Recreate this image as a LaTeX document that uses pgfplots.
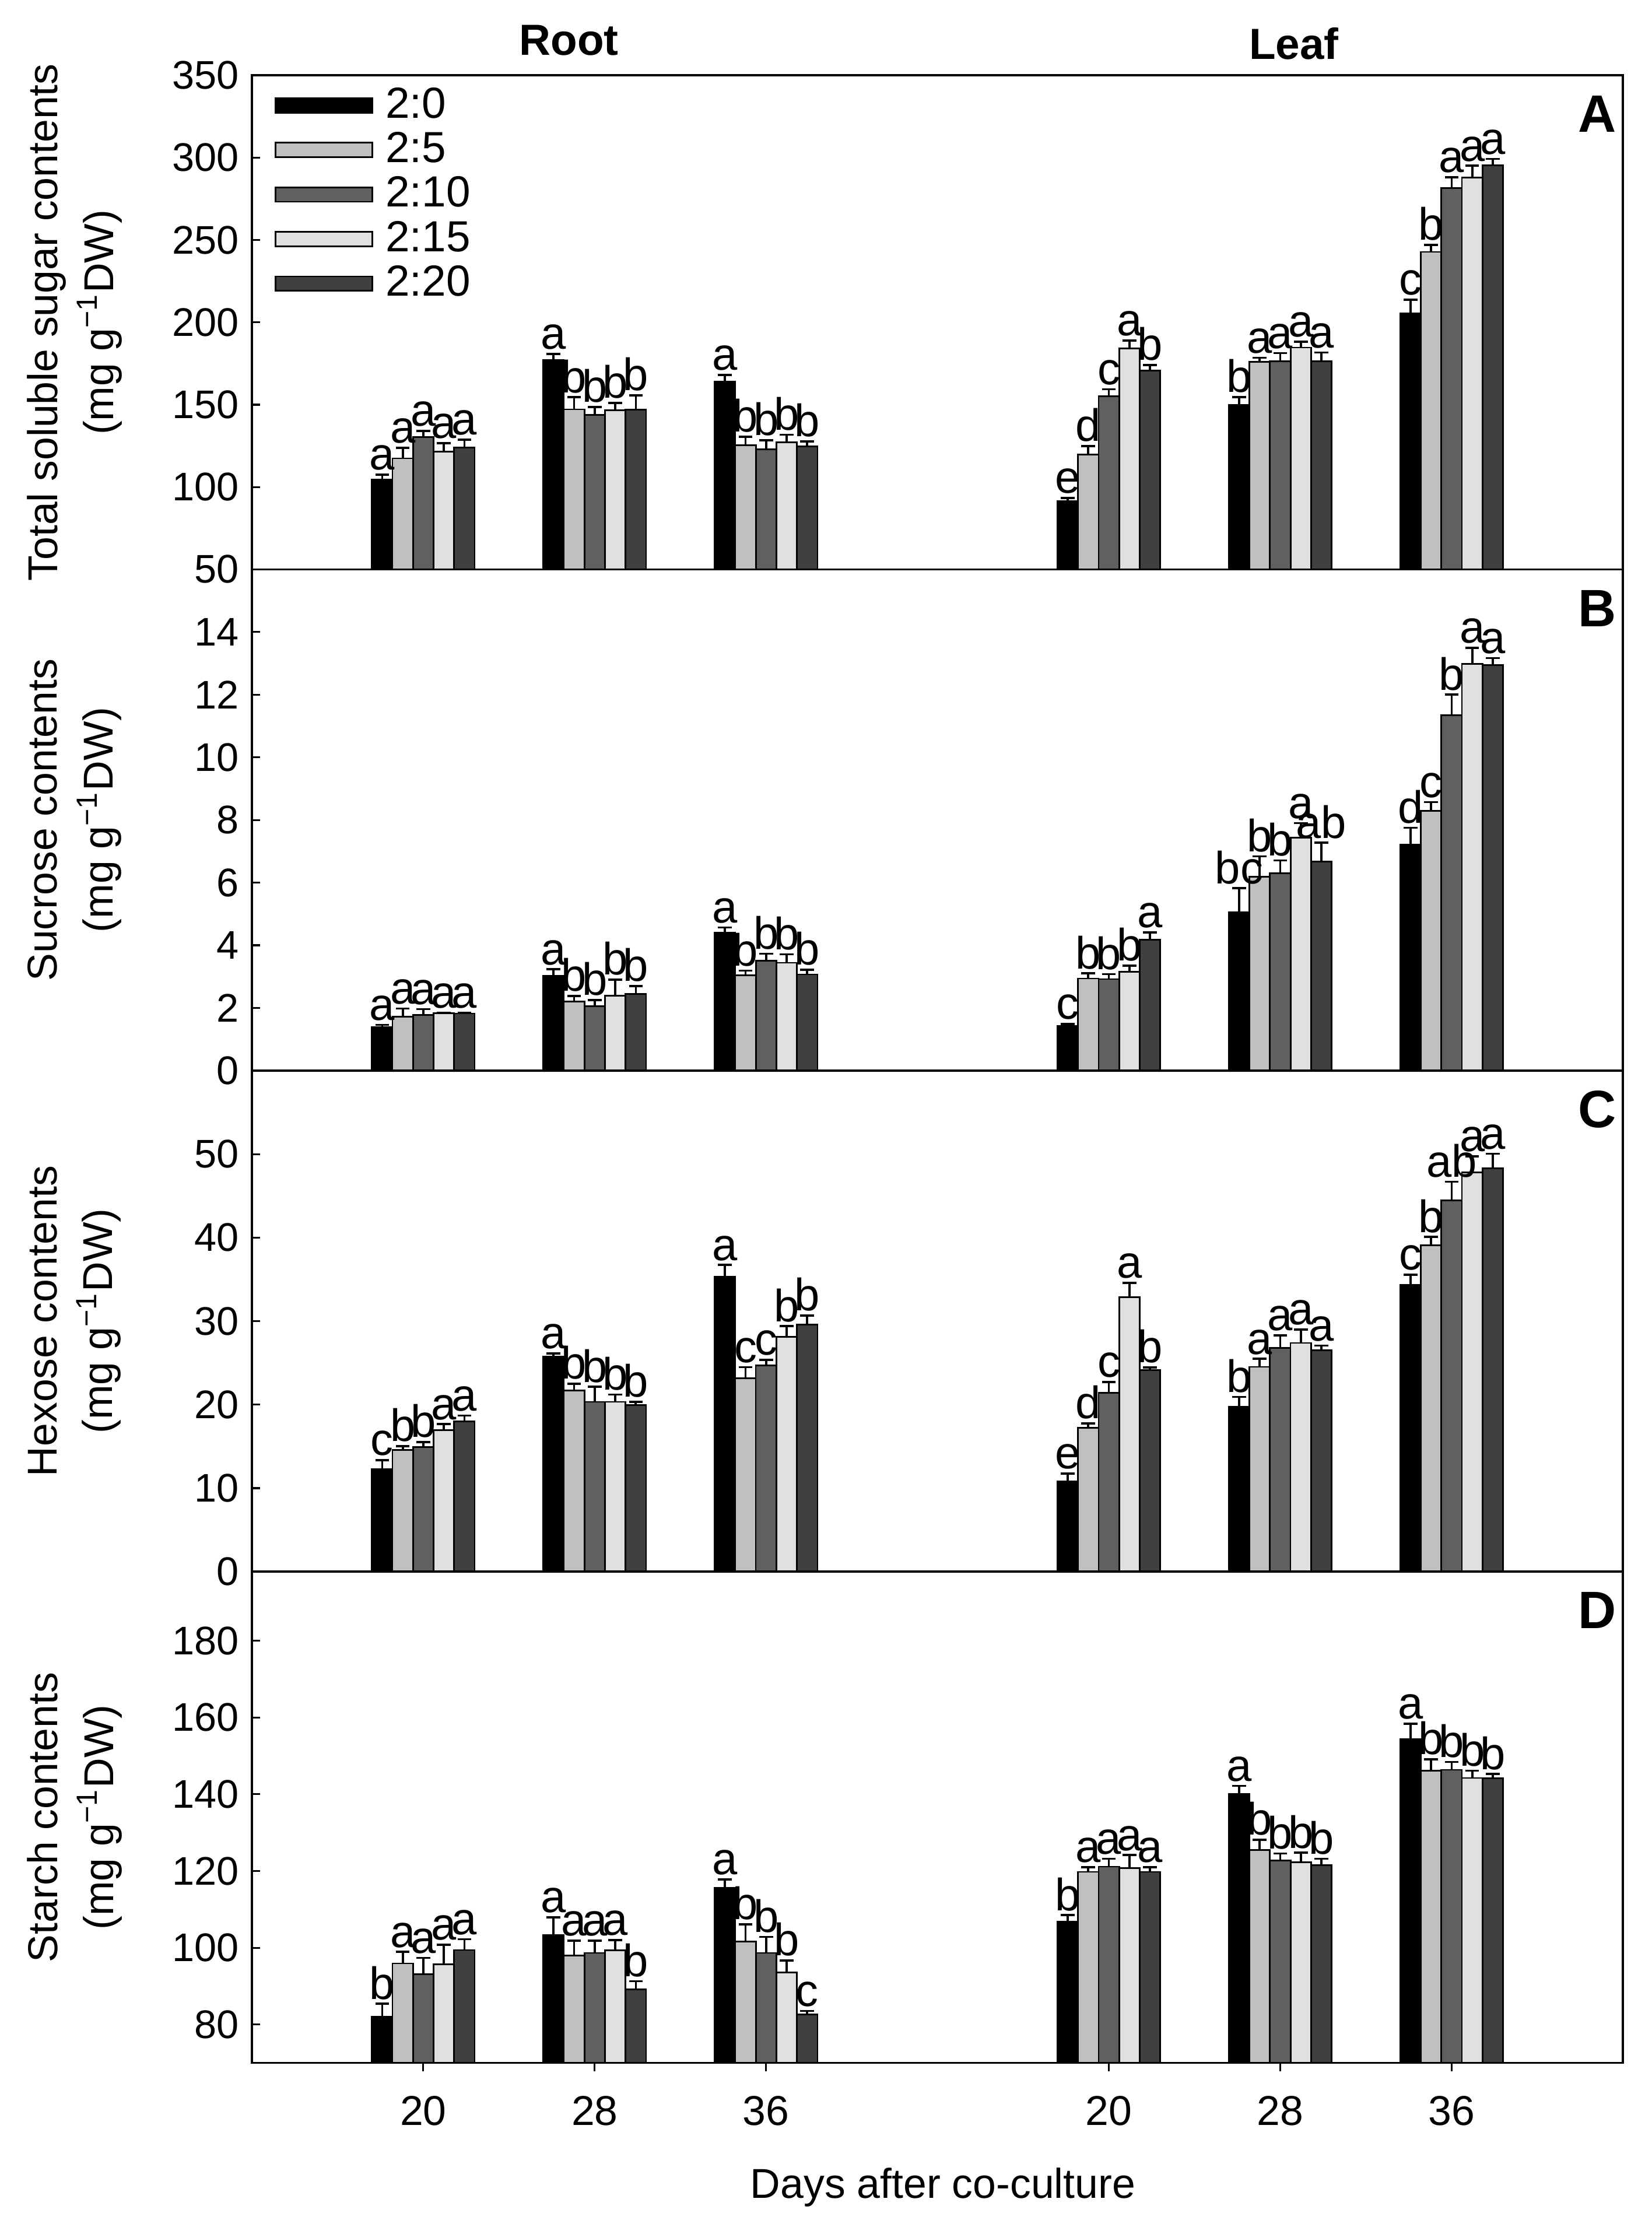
\documentclass[border=0pt]{standalone}
\usepackage{fontspec}
\setmainfont{Liberation Sans}
\usepackage{pgfplots}
\usepackage{pgfplotstable}
\pgfplotsset{compat=1.18}

\definecolor{c0}{HTML}{000000}
\definecolor{c1}{HTML}{C0C0C0}
\definecolor{c2}{HTML}{606060}
\definecolor{c3}{HTML}{E0E0E0}
\definecolor{c4}{HTML}{404040}

% x: 0,1,2 = root 20,28,36 ; 4,5,6 = leaf 20,28,36
% yN = mean, eN = SE (upper), lN = letter
\pgfplotstableread{
x y0 e0 l0 y1 e1 l1 y2 e2 l2 y3 e3 l3 y4 e4 l4
0 104.7 2.8 a 117.4 6.4 a 130.4 3.7 a 121.5 5.2 a 124.1 4.7 a
1 177.3 3.5 a 147.2 7.3 b 143.9 4.7 b 146.6 4.5 b 146.9 8.8 b
2 163.9 4.1 a 125.5 5.1 b 122.9 5.6 b 127.1 4.7 b 124.7 3.0 b
4 91.3 2.1 e 119.8 5.0 d 155.0 4.4 c 184.2 4.7 a 170.8 3.3 b
5 149.9 4.8 b 176.0 2.5 a 176.5 4.8 a 184.7 3.6 a 176.5 5.2 a
6 205.5 8.2 c 242.8 4.2 b 281.6 6.6 a 287.9 7.2 a 295.5 3.8 a
}\tabA

\pgfplotstableread{
x y0 e0 l0 y1 e1 l1 y2 e2 l2 y3 e3 l3 y4 e4 l4
0 1.38 0.08 a 1.72 0.26 a 1.78 0.18 a 1.83 0.02 a 1.82 0.02 a
1 3.03 0.20 a 2.21 0.17 b 2.05 0.20 b 2.39 0.51 b 2.45 0.25 b
2 4.41 0.16 a 3.04 0.15 b 3.50 0.23 b 3.44 0.27 b 3.07 0.15 b
4 1.42 0.07 c 2.94 0.16 b 2.92 0.16 b 3.16 0.19 b 4.17 0.24 a
5 5.06 0.76 bc 6.18 0.66 b 6.30 0.41 b 7.44 0.46 a 6.67 0.60 ab
6 7.22 0.53 d 8.29 0.28 c 11.34 0.66 b 12.98 0.52 a 12.94 0.23 a
}\tabB

\pgfplotstableread{
x y0 e0 l0 y1 e1 l1 y2 e2 l2 y3 e3 l3 y4 e4 l4
0 12.28 1.08 c 14.59 0.44 b 14.95 0.56 b 16.95 0.71 a 17.98 0.72 a
1 25.72 0.40 a 21.69 0.80 b 20.33 1.80 b 20.33 0.88 b 19.94 0.39 b
2 35.33 1.39 a 23.17 1.31 c 24.68 0.68 c 28.11 1.28 b 29.59 1.07 b
4 10.84 0.92 e 17.22 0.52 d 21.41 1.32 c 32.85 1.72 a 24.12 0.32 b
5 19.74 1.19 b 24.52 0.96 a 26.79 1.52 a 27.39 1.60 a 26.52 0.55 a
6 34.33 1.24 c 39.07 1.00 b 44.46 2.23 ab 47.81 1.91 a 48.28 1.76 a
}\tabC

\pgfplotstableread{
x y0 e0 l0 y1 e1 l1 y2 e2 l2 y3 e3 l3 y4 e4 l4
0 81.97 3.42 b 95.91 2.99 a 93.09 4.28 a 95.65 5.14 a 99.42 2.82 a
1 103.35 4.62 a 97.96 3.85 a 98.65 3.16 a 99.33 2.65 a 89.15 2.14 b
2 115.67 2.14 a 101.64 4.45 b 98.65 4.19 b 93.52 3.16 b 82.65 0.86 c
4 106.78 1.71 b 119.78 1.20 a 121.15 2.05 a 120.81 3.33 a 119.78 1.20 a
5 140.14 2.05 a 125.42 2.74 b 122.77 1.80 b 122.34 2.40 b 121.57 1.63 b
6 154.42 3.94 a 146.13 2.99 b 146.38 2.05 b 144.24 1.89 b 144.16 1.11 b
}\tabD

\pgfplotsset{
  mybar/.style={ybar, bar width=0.12, bar shift=0pt, draw=black, line width=0.45pt,
    error bars/y dir=plus, error bars/y explicit,
    error bars/error bar style={black, line width=0.6pt},
    error bars/error mark options={rotate=90, mark size=1.9pt, line width=0.6pt, black}},
  mylab/.style={ybar, bar width=0.12, bar shift=0pt, draw=none, fill=none, forget plot,
    nodes near coords, point meta=explicit symbolic,
    nodes near coords style={font=\fontsize{12.5}{14}\selectfont, anchor=south, inner sep=1pt}},
  panel/.style={width=13.28cm, scale only axis, xmin=-1, xmax=7,
    xtick={0,1,2,4,5,6}, xticklabels={}, major x tick style={draw=none},
    ytick pos=left, xtick pos=bottom, tick align=inside, major tick length=0.08cm,
    tick style={black, line width=0.5pt}, axis line style={line width=0.6pt},
    ticklabel style={font=\fontsize{11}{13}\selectfont},
    /pgf/number format/assume math mode=true,
    every axis y label/.style={at={(axis description cs:-0.1293,0.5)}, rotate=90,
      anchor=center, align=center, font=\fontsize{11.5}{15.3}\selectfont}},
}

% bars sit at group position + offset of the series
\newcommand{\bars}[1]{%
  \addplot[mybar, fill=c0] table[x expr=\thisrow{x}-0.24, y=y0, y error=e0] {#1};
  \addplot[mybar, fill=c1] table[x expr=\thisrow{x}-0.12, y=y1, y error=e1] {#1};
  \addplot[mybar, fill=c2] table[x expr=\thisrow{x},      y=y2, y error=e2] {#1};
  \addplot[mybar, fill=c3] table[x expr=\thisrow{x}+0.12, y=y3, y error=e3] {#1};
  \addplot[mybar, fill=c4] table[x expr=\thisrow{x}+0.24, y=y4, y error=e4] {#1};
  \addplot[mylab] table[x expr=\thisrow{x}-0.24, y expr=\thisrow{y0}+\thisrow{e0}, meta=l0] {#1};
  \addplot[mylab] table[x expr=\thisrow{x}-0.12, y expr=\thisrow{y1}+\thisrow{e1}, meta=l1] {#1};
  \addplot[mylab] table[x expr=\thisrow{x},      y expr=\thisrow{y2}+\thisrow{e2}, meta=l2] {#1};
  \addplot[mylab] table[x expr=\thisrow{x}+0.12, y expr=\thisrow{y3}+\thisrow{e3}, meta=l3] {#1};
  \addplot[mylab] table[x expr=\thisrow{x}+0.24, y expr=\thisrow{y4}+\thisrow{e4}, meta=l4] {#1};
}

\newcommand{\tag}[1]{\node[font=\bfseries\fontsize{14.5}{16}\selectfont] at (rel axis cs:0.981,0.922) {#1};}

\begin{document}
\begin{tikzpicture}
\begin{axis}[panel, name=pA, height=4.785cm, ymin=50, ymax=350, ytick={50,100,...,350},
  ylabel={Total soluble sugar contents\\(mg g\textsuperscript{−1}DW)},
  legend style={at={(axis description cs:0.008,0.996)}, anchor=north west, draw=none, fill=none,
    font=\fontsize{12}{14}\selectfont, row sep=1.2pt, column sep=0.1cm, nodes={inner sep=0.6pt}},
  legend cell align=left,
  legend image code/.code={\draw[#1] (0cm,-0.07cm) rectangle (0.94cm,0.07cm);}]
\bars{\tabA}
\legend{2:0,2:5,2:10,2:15,2:20}
\tag{A}
\coordinate (rootT) at (axis cs:0.85,350);
\coordinate (leafT) at (axis cs:5.08,350);
\end{axis}
\node[font=\bfseries\fontsize{12}{14}\selectfont, yshift=0.34cm] at (rootT) {Root};
\node[font=\bfseries\fontsize{12}{14}\selectfont, yshift=0.31cm] at (leafT) {Leaf};

\begin{axis}[panel, name=pB, at={(pA.south west)}, anchor=north west, height=4.854cm,
  ymin=0, ymax=16, ytick={0,2,...,14},
  ylabel={Sucrose contents\\(mg g\textsuperscript{−1}DW)}]
\bars{\tabB}
\tag{B}
\end{axis}

\begin{axis}[panel, name=pC, at={(pB.south west)}, anchor=north west, height=4.854cm,
  ymin=0, ymax=60, ytick={0,10,...,50},
  ylabel={Hexose contents\\(mg g\textsuperscript{−1}DW)}]
\bars{\tabC}
\tag{C}
\end{axis}

\begin{axis}[panel, name=pD, at={(pC.south west)}, anchor=north west, height=4.757cm,
  ymin=70, ymax=198, ytick={80,100,...,180},
  ylabel={Starch contents\\(mg g\textsuperscript{−1}DW)},
  xticklabels={20,28,36,20,28,36},
  major x tick style={draw=black, yshift=-0.08cm},
  xticklabel style={yshift=-0.2cm, font=\fontsize{11.5}{13}\selectfont},
  xlabel={Days after co-culture},
  xlabel style={at={(axis description cs:0.504,-0.254)}, anchor=center, font=\fontsize{11.5}{13}\selectfont}]
\bars{\tabD}
\tag{D}
\end{axis}

\path (pA.north west) ++(-2.44cm,0.73cm);
\path (pD.south east) ++(0.28cm,-1.59cm);
\end{tikzpicture}
\end{document}
